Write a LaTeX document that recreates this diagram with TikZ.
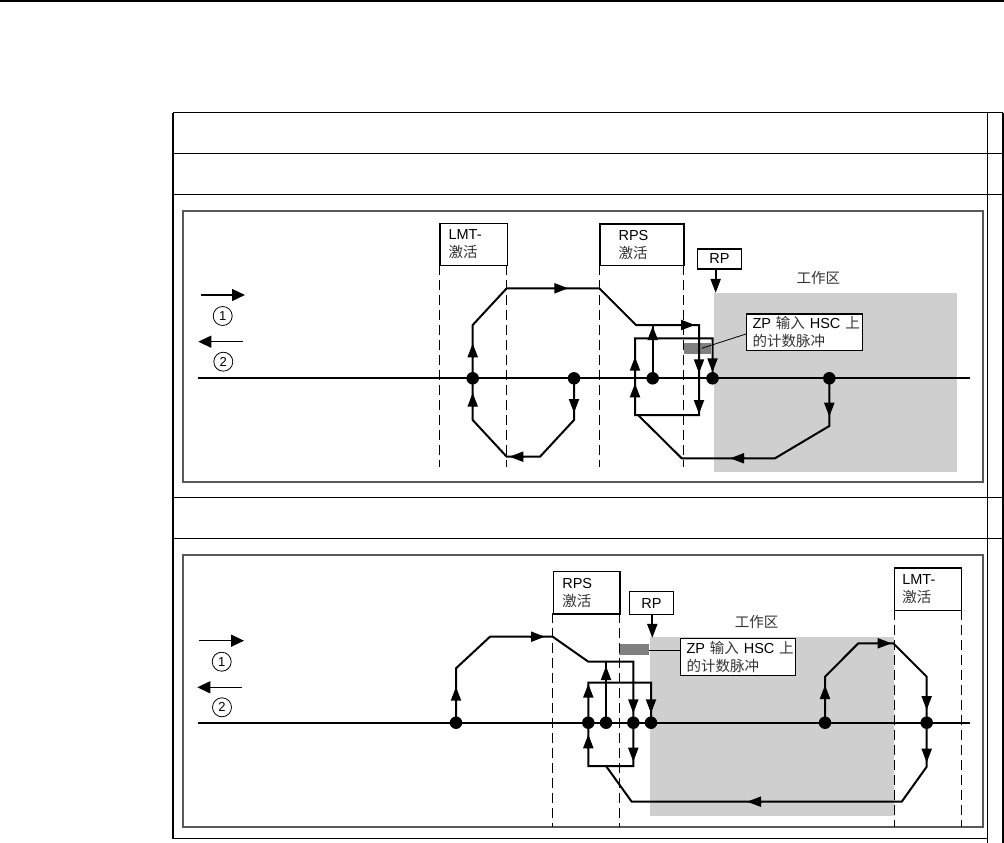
\documentclass[tikz,border=0pt]{standalone}
\usepackage{fontspec}
\setmainfont{Liberation Sans}
\newfontfamily\cjk{Noto Sans CJK SC}
\usetikzlibrary{arrows.meta}
\tikzset{
  rule/.style={line width=1.5pt},
  panel/.style={draw=black!65,line width=1.8pt},
  box/.style={draw,line width=1.2pt,anchor=north west,align=left,inner ysep=0pt},
  guide/.style={line width=1pt,dash pattern=on 10pt off 5pt},
  track/.style={line width=2pt},
  tip/.style={line width=2pt,-{Triangle[length=14pt,width=10pt]}},
  dot/.style={circle,fill,inner sep=0pt,minimum size=12.5pt},
  num/.style={circle,draw,line width=0.8pt,minimum size=19pt,inner sep=0pt,font=\fontsize{13}{13}\selectfont},
  legend/.style={line width=1.3pt,-{Triangle[length=13pt,width=12pt]}},
  zone/.style={fill=black!19},
  pulse/.style={fill=black!50},
  zh/.style={font=\fontsize{14.5}{18}\selectfont\cjk,text=black!80}
}
\begin{document}
\begin{tikzpicture}[x=1pt,y=-1pt,font=\fontsize{14.5}{18}\selectfont]
\useasboundingbox (0,0) rectangle (1004,843);
% table
\draw[rule] (0,1) -- (1004,1);
\draw[rule] (173,112.7) -- (1003,112.7);
\draw[rule] (173,153.3) -- (1003,153.3);
\draw[rule] (173,194.3) -- (1003,194.3);
\draw[rule] (173,497.7) -- (1003,497.7);
\draw[rule] (173,538.7) -- (1003,538.7);
\draw[rule] (173,838.5) -- (987.5,838.5);
\draw[rule] (173,112.7) -- (173,838.5);
\draw[rule] (987.5,112.7) -- (987.5,843);
\draw[rule] (1003,112.7) -- (1003,843);
\draw[panel] (182.7,210.7) rectangle (982.7,482);
\draw[panel] (182.7,555) rectangle (982.7,827);

% first case
\fill[zone] (714.3,292.7) rectangle (957.3,471.7);
\fill[pulse] (684,343.3) rectangle (710.7,354);
\draw[guide] (439.3,265) -- (439.3,466.7);
\draw[guide] (506.7,265) -- (506.7,466.7);
\draw[guide] (599.3,265) -- (599.3,466.7);
\draw[guide] (683.3,265) -- (683.3,466.7);
\node[box,inner xsep=8.7pt,text width=50pt,minimum height=42.3pt] (lmtA) at (439.3,222.7) {LMT-\\{\cjk\color{black!80}激活}};
\node[box,inner xsep=18.7pt,text width=46.6pt,minimum height=41.7pt] (rpsA) at (599.3,223.3) {RPS\\{\cjk\color{black!80}激活}};
\node[box,minimum width=44.3pt,minimum height=20pt,align=center] (rpA) at (696.7,248.3) {RP};
\draw[tip] (rpA.south) ++(-3.8,0) -- ++(0,23.4);
\node[zh] (zoneA) at (818.3,278.3) {工作区};
\node[box,inner xsep=6pt,text width=103.7pt,minimum height=36.7pt,fill=white] (zpA) at (746,313.3) {\mbox{ZP {\cjk\color{black!80}输入} HSC {\cjk\color{black!80}上}}\\{\cjk\color{black!80}的计数脉冲}};
\draw[line width=0.8pt] (746,334) -- (701.7,348.3);
\draw[track] (198.3,378.3) -- (970,378.3);
\draw[legend] (200.7,295) -- (245,295);
\node[num] (oneA) at (222.7,316) {1};
\draw[legend] (242.7,341.7) -- (198.3,341.7);
\node[num] (twoA) at (223.3,361.7) {2};
\node[dot] (a1) at (472.7,378.3) {};
\node[dot] (b1) at (574,378.3) {};
\node[dot] (c1) at (652.7,378.3) {};
\node[dot] (d1) at (712.5,378.3) {};
\node[dot] (e1) at (829.3,378.3) {};
\draw[track] (b1.center) -- (574,420) -- (540,456.7) -- (506.7,456.7) -- (472.7,420)
  -- (a1.center) -- (472.7,325) -- (506.7,288.3) -- (599.3,288.3) -- (636,325)
  -- (699,325) -- (699,415) -- (635,415) -- (635,338.3) -- (712.5,338.3) -- (d1.center);
\draw[track] (c1.center) -- (652.7,325);
\draw[track] (e1.center) -- (829.3,426) -- (775,458.3) -- (681.7,458.3) -- (638,415);
\draw[tip] (574,400) -- (574,413);
\draw[tip] (523,456.7) -- (509.3,456.7);
\draw[tip] (472.7,406) -- (472.7,392.7);
\draw[tip] (472.7,357) -- (472.7,343.3);
\draw[tip] (554,288.3) -- (568.3,288.3);
\draw[tip] (681,325) -- (695,325);
\draw[tip] (699,360) -- (699,373.3);
\draw[tip] (699,401) -- (699,414);
\draw[tip] (635,370) -- (635,356.7);
\draw[tip] (635,397) -- (635,383.3);
\draw[tip] (712.5,360) -- (712.5,372.3);
\draw[tip] (652.7,340) -- (652.7,326);
\draw[tip] (829.3,403) -- (829.3,416.7);
\draw[tip] (745,458.3) -- (730,458.3);

% second case
\fill[zone] (650,636.7) rectangle (894,816);
\fill[pulse] (619.3,644) rectangle (649.3,655);
\draw[guide] (552.7,613.3) -- (552.7,827);
\draw[guide] (619.3,613.3) -- (619.3,827);
\draw[guide] (894,610) -- (894,827);
\draw[guide] (961,610) -- (961,827);
\node[box,inner xsep=9pt,text width=48.6pt,minimum height=42.3pt] (rpsB) at (552.7,571) {RPS\\{\cjk\color{black!80}激活}};
\node[box,inner xsep=7.7pt,text width=51.6pt,minimum height=42.7pt] (lmtB) at (894,567.3) {LMT-\\{\cjk\color{black!80}激活}};
\node[box,minimum width=43.7pt,minimum height=23pt,align=center] (rpB) at (629,591) {RP};
\draw[tip] (rpB.south) ++(0.85,0) -- ++(0,22.7);
\node[zh] (zoneB) at (756.7,621.7) {工作区};
\node[box,inner xsep=6pt,text width=103pt,minimum height=37.3pt,fill=white] (zpB) at (680,637.7) {\mbox{ZP {\cjk\color{black!80}输入} HSC {\cjk\color{black!80}上}}\\{\cjk\color{black!80}的计数脉冲}};
\draw[line width=0.8pt] (680,650) -- (649.3,650);
\draw[track] (198.3,722.7) -- (970,722.7);
\draw[legend] (199.3,640.7) -- (244,640.7);
\node[num] (oneB) at (221.7,661.7) {1};
\draw[legend] (241.7,687.3) -- (197.3,687.3);
\node[num] (twoB) at (222,707.3) {2};
\node[dot] (f1) at (456,722.7) {};
\node[dot] (g1) at (588.3,722.7) {};
\node[dot] (h1) at (606,722.7) {};
\node[dot] (i1) at (633.3,722.7) {};
\node[dot] (j1) at (651,722.7) {};
\node[dot] (k1) at (825,722.7) {};
\node[dot] (l1) at (926.7,722.7) {};
\draw[track] (f1.center) -- (456,668.3) -- (490,636.7) -- (552.7,636.7) -- (588.3,661.7)
  -- (633.3,661.7) -- (633.3,766) -- (588.3,766) -- (588.3,682.7) -- (651,682.7) -- (j1.center);
\draw[track] (h1.center) -- (606,661.7);
\draw[track] (k1.center) -- (825,676.7) -- (858.3,643.3) -- (893.3,643.3) -- (926.7,676.7)
  -- (l1.center) -- (926.7,766.7) -- (901.7,801.7) -- (631.7,801.7) -- (606,766);
\draw[tip] (456,700) -- (456,686.7);
\draw[tip] (530,636.7) -- (545,636.7);
\draw[tip] (633.3,700) -- (633.3,713.3);
\draw[tip] (633.3,748) -- (633.3,761.7);
\draw[tip] (588.3,696) -- (588.3,683.7);
\draw[tip] (588.3,748) -- (588.3,734.3);
\draw[tip] (651,700) -- (651,713.3);
\draw[tip] (606,680) -- (606,666);
\draw[tip] (825,698) -- (825,685);
\draw[tip] (877,643.3) -- (891.7,643.3);
\draw[tip] (926.7,697) -- (926.7,710);
\draw[tip] (926.7,750) -- (926.7,762.7);
\draw[tip] (762,801.7) -- (747,801.7);
\end{tikzpicture}
\end{document}
